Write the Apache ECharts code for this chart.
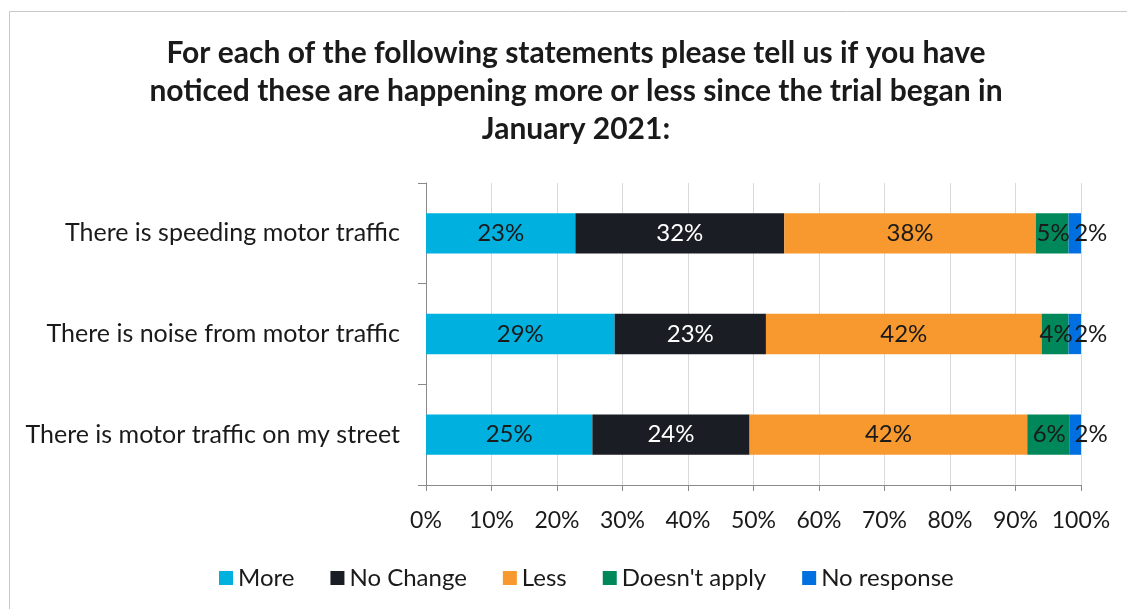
<!DOCTYPE html>
<html>
<head>
<meta charset="utf-8">
<script src="https://cdn.jsdelivr.net/npm/echarts@6/dist/echarts.min.js"></script>
<style>
html,body{margin:0;padding:0;background:#fff;}
#chart{width:1127px;height:609px;}
</style>
</head>
<body>
<div id="chart"></div>
<script>
var categories = ['There is speeding motor traffic', 'There is noise from motor traffic', 'There is motor traffic on my street'];
var seriesNames = ['More', 'No Change', 'Less', "Doesn't apply", 'No response'];
var more = [22.8, 28.8, 25.4];
var noChange = [31.9, 23.1, 24.0];
var less = [38.4, 42.1, 42.4];
var doesntApply = [5.0, 4.1, 6.4];
var noResponse = [1.9, 1.9, 1.8];
var xTicks = [0, 10, 20, 30, 40, 50, 60, 70, 80, 90, 100];

var colors = ['#00B0DF', '#1A1D24', '#F7992E', '#00875A', '#0070E0'];
var labelColors = ['#1a1a1a', '#ffffff', '#1a1a1a', '#1a1a1a', '#1a1a1a'];
var labelOffsets = [[0, 0], [0, 0], [0, 0], [1, 0], [16, 0]];
var values = [more, noChange, less, doesntApply, noResponse];
var FONT = 'Lato';

var chart = echarts.init(document.getElementById('chart'));
var series = seriesNames.map(function (name, i) {
  return {
    name: name,
    type: 'bar',
    stack: 'total',
    barWidth: '40%',
    data: values[i],
    itemStyle: { color: colors[i] },
    label: {
      show: true,
      position: 'inside',
      offset: labelOffsets[i],
      color: labelColors[i],
      fontFamily: FONT,
      fontSize: 24,
      formatter: function (p) { return Math.round(p.value) + '%'; }
    },
    emphasis: { disabled: true }
  };
});

chart.setOption({
  animation: false,
  backgroundColor: '#fff',
  title: {
    text: 'For each of the following statements please tell us if you have\nnoticed these are happening more or less since the trial began in\nJanuary 2021:',
    left: 571,
    textAlign: 'center',
    top: 29,
    textStyle: { fontFamily: FONT, fontSize: 30, fontWeight: 'bold', color: '#1a1a1a', lineHeight: 38 }
  },
  graphic: [
    { type: 'line', shape: { x1: 9.5, y1: 11.5, x2: 1127, y2: 11.5 }, style: { stroke: '#c8c8c8', lineWidth: 1 } },
    { type: 'line', shape: { x1: 9.5, y1: 11.5, x2: 9.5, y2: 609 }, style: { stroke: '#c8c8c8', lineWidth: 1 } }
  ],
  legend: {
    data: seriesNames,
    left: 214,
    top: 561,
    icon: 'rect',
    itemWidth: 14,
    itemHeight: 14,
    itemGap: 36,
    textStyle: { fontFamily: FONT, fontSize: 24, color: '#1a1a1a' }
  },
  grid: { left: 426, right: 46, top: 183, bottom: 124, containLabel: false },
  xAxis: {
    type: 'value',
    min: 0,
    max: 100,
    interval: 10,
    axisLine: { show: true, lineStyle: { color: '#8a8a8a' } },
    axisTick: { show: true, length: 6, lineStyle: { color: '#8a8a8a' } },
    splitLine: { show: true, lineStyle: { color: '#d9d9d9' } },
    axisLabel: {
      fontFamily: FONT, fontSize: 23, color: '#1a1a1a', margin: 24,
      formatter: function (v) { return xTicks.indexOf(v) >= 0 ? v + '%' : ''; }
    }
  },
  yAxis: {
    type: 'category',
    inverse: true,
    data: categories,
    axisLine: { show: true, lineStyle: { color: '#8a8a8a' } },
    axisTick: { show: true, length: 8, lineStyle: { color: '#8a8a8a' } },
    axisLabel: { fontFamily: FONT, fontSize: 25, color: '#1a1a1a', margin: 26 }
  },
  series: series
});
</script>
</body>
</html>
